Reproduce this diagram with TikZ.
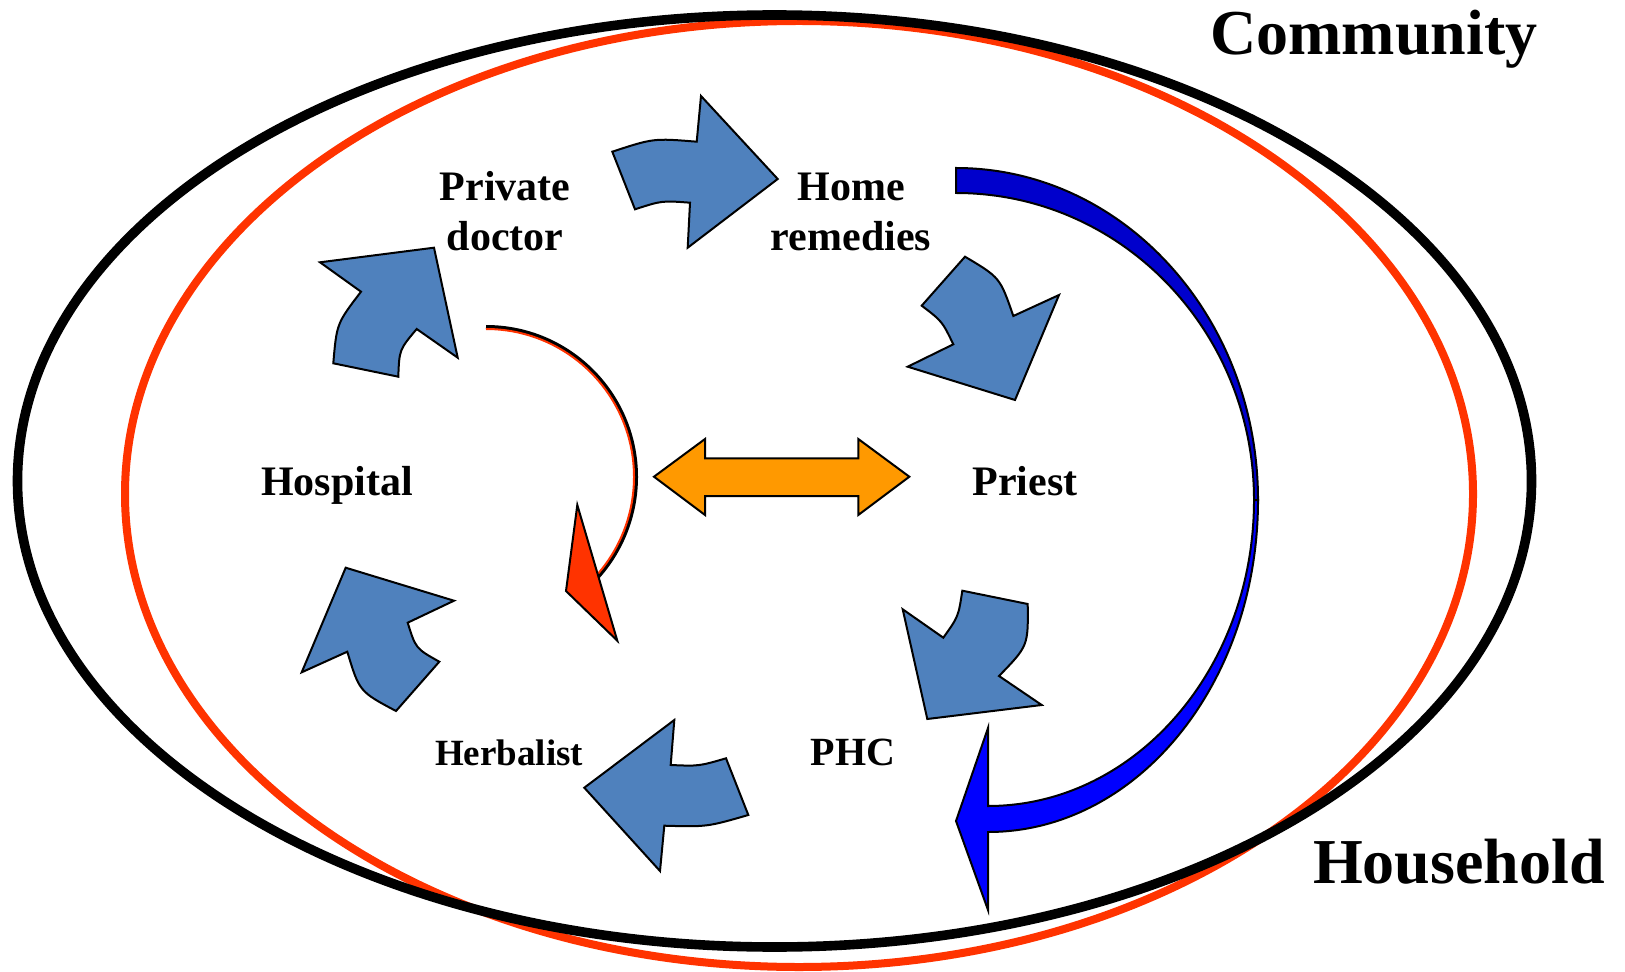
\documentclass[tikz,border=0pt]{standalone}
\usepackage{fontspec}
\setmainfont{Liberation Serif}
\usepackage{tikz}
\usetikzlibrary{positioning}
\definecolor{arrowblue}{HTML}{4F81BD}
\definecolor{bandblue}{HTML}{0000CC}
\definecolor{bandlight}{HTML}{0000FF}
\definecolor{ringred}{HTML}{FF3300}
\definecolor{swaporange}{HTML}{FF9900}

\begin{document}
\begin{tikzpicture}[x=0.5pt, y=-0.5pt, blockarrow/.style={fill=arrowblue, draw=black, line width=1pt}, lbl/.style={font=\fontsize{21}{25}\selectfont\bfseries, inner sep=0pt, align=center}, ring/.style={font=\fontsize{32}{36}\selectfont\bfseries, inner sep=0pt}]
        \fill[white] (0,0) rectangle (1625,972);
        \useasboundingbox (0,0) rectangle (1625,972);
        \draw[ringred, line width=4pt] (799,494) ellipse [x radius=337pt, y radius=236.5pt];
        \draw[black, line width=4.8pt] (774.5,481) ellipse [x radius=378.5pt, y radius=233pt];
        \node[ring, anchor=base] (community) at (1374,55) {Community};
        \node[ring, anchor=base] (household) at (1459,883) {Household};
        \node[lbl] (private) at (505,211.5) {Private\\doctor};
        \node[lbl] (home) at (851,211.5) {Home\\remedies};
        \node[lbl, anchor=base] (hospital) at (337,495) {Hospital};
        \node[lbl, anchor=base] (priest) at (1025,495) {Priest};
        \node[lbl, anchor=base, font=\fontsize{18.5}{22}\selectfont\bfseries] (herbalist) at (509,765) {Herbalist};
        \node[lbl, anchor=base, font=\fontsize{20}{24}\selectfont\bfseries] (phc) at (853,765) {PHC};
        \draw[blockarrow] (612.3,151.7) -- (635,209.3) .. controls (661.9,200.6) .. (690,202.7) -- (687.7,247.7) -- (777.7,179) -- (701,96) -- (696.7,141.7) .. controls (653.5,138.2) .. cycle;
        \draw[blockarrow] (921.7,305.7) -- (965,256.7) .. controls (1000,277.5) .. (1013.3,316) -- (1059,295) -- (1015,400) -- (907.7,366.7) -- (953.3,344.3) .. controls (942.1,321.2) .. cycle;
        \draw[blockarrow] (962.3,590.7) -- (1027.7,604) .. controls (1028.2,645.9) .. (999,676) -- (1041.7,705) -- (927.3,719) -- (902.7,609.3) -- (943.3,637.7) .. controls (958.4,616.5) .. cycle;
        \draw[blockarrow] (726,758.3) -- (748.3,815) .. controls (707.1,826.9) .. (664.3,825.7) -- (660,871) -- (584.3,787.7) -- (674.3,720) -- (670.7,765) .. controls (698.9,766.2) .. cycle;
        \draw[blockarrow] (396,711) -- (439.3,661.7) .. controls (415.7,648.5) .. (407.7,622.7) -- (454,600.7) -- (345.7,567.7) -- (301.7,672.3) -- (347.3,651.7) .. controls (359.3,691.5) .. cycle;
        \draw[blockarrow] (333.3,363.3) -- (398.3,376.7) .. controls (399.3,349.7) .. (416.7,329) -- (457.7,357.7) -- (434,247.7) -- (320,262.3) -- (361,291.7) .. controls (336.7,323.5) .. cycle;
        \draw[fill=bandblue, draw=black, line width=1pt] (956,168) .. controls (1122.8,168) and (1258,316.6) .. (1258,500) -- (1254,500) .. controls (1254,330.4) and (1120.6,193) .. (956,193) -- cycle;
        \draw[fill=bandlight, draw=black, line width=1pt] (1254,500) .. controls (1254,669) and (1134.9,806) .. (988,806) -- (988,728) -- (956,821) -- (988,910) -- (988,832) .. controls (1137.1,832) and (1258,683.4) .. (1258,500) -- cycle;
        \draw[black, line width=2pt] (486,327) arc[start angle=90, end angle=-42, radius=75pt];
        \draw[ringred, line width=1pt] (486,329) arc[start angle=90, end angle=-42, radius=74pt];
        \draw[fill=ringred, draw=black, line width=1pt] (577.3,505) -- (566,591) -- (617.3,640.7) -- cycle;
        \draw[fill=swaporange, draw=black, line width=1pt] (654,476.7) -- (705,439) -- (705,458.3) -- (858.3,458.3) -- (858.3,439) -- (909.3,476.7) -- (858.3,515) -- (858.3,496) -- (705,496) -- (705,515) -- cycle;
    \end{tikzpicture}
\end{document}
